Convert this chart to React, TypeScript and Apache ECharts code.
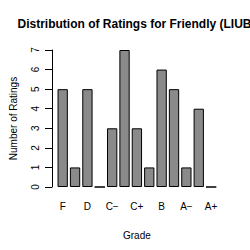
import React, { useEffect, useRef } from "react";
import * as echarts from "echarts";

const grades = ["F", "D\u2212", "D", "D+", "C\u2212", "C", "C+", "B\u2212", "B", "B+", "A\u2212", "A", "A+"];
const counts = [5, 1, 5, 0, 3, 7, 3, 1, 6, 5, 1, 4, 0];
const yTicks = [0, 1, 2, 3, 4, 5, 6, 7];
const titleText = "Distribution of Ratings for Friendly (LIUB)";

export default function App() {
  const ref = useRef<HTMLDivElement>(null);
  useEffect(() => {
    document.body.style.margin = "0";
    const chart = echarts.init(ref.current!, null, { renderer: "svg" });
    const font = "Liberation Sans, Arial, sans-serif";
    chart.setOption({
      animation: false,
      backgroundColor: "#ffffff",
      textStyle: { fontFamily: font },
      graphic: [
        {
          type: "text",
          x: 136.5,
          y: 24,
          style: {
            text: titleText,
            fontFamily: font,
            fontWeight: "bold",
            fontSize: 12,
            fill: "#000",
            textAlign: "center",
            textVerticalAlign: "middle",
          },
        },
      ],
      grid: { left: 53.5, width: 163.8, top: 50, height: 137 },
      xAxis: {
        type: "category",
        data: grades,
        name: "Grade",
        nameLocation: "middle",
        nameGap: 43,
        nameTextStyle: { fontSize: 10, color: "#000", fontFamily: font },
        axisLine: { show: false },
        axisTick: { show: false },
        axisLabel: { interval: 1, fontSize: 10, color: "#000", margin: 14, fontFamily: font },
      },
      yAxis: {
        type: "value",
        min: yTicks[0],
        max: yTicks[yTicks.length - 1],
        interval: 1,
        offset: 4.5,
        name: "Number of Ratings",
        nameLocation: "middle",
        nameGap: 34,
        nameRotate: 90,
        nameTextStyle: { fontSize: 10, color: "#000", fontFamily: font },
        splitLine: { show: false },
        axisLine: { show: true, lineStyle: { color: "#000", width: 1 } },
        axisTick: { show: true, length: 7, lineStyle: { color: "#000" } },
        axisLabel: { rotate: 90, fontSize: 10, color: "#000", margin: 12, fontFamily: font },
      },
      series: [
        {
          type: "bar",
          data: counts,
          barCategoryGap: "16.7%",
          itemStyle: { color: "#8a8a8a", borderColor: "#000", borderWidth: 1 },
        },
      ],
    });
    return () => chart.dispose();
  }, []);
  return <div ref={ref} style={{ width: 250, height: 250 }} />;
}
